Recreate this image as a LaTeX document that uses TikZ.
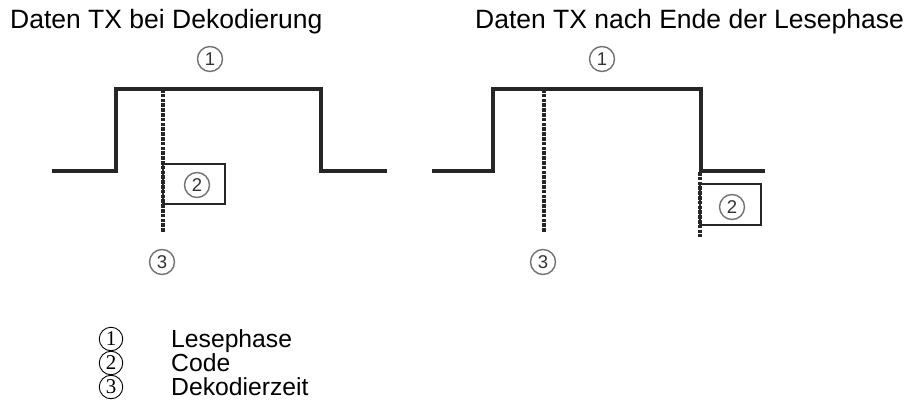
\documentclass[tikz,border=0pt]{standalone}
\usepackage{fontspec}
\setmainfont{Liberation Sans}
\newfontfamily\serifdig{Liberation Serif}
\begin{document}
\begin{tikzpicture}[x=1pt,y=-1pt,
  sig/.style={line width=3.2pt, draw=black!85, line join=miter, line cap=butt},
  dashline/.style={line width=3.3pt, draw=black!85, dash pattern=on 3.6pt off 1.2pt},
  codebox/.style={line width=2.6pt, draw=black!85},
  clabel/.style={circle, draw=black!55, line width=1.4pt, minimum size=25pt, inner sep=0pt,
    font=\fontsize{18.5}{18.5}\selectfont, text=black!80},
  lnum/.style={circle, draw=black, line width=0.9pt, minimum size=23.5pt, inner sep=0pt,
    font=\serifdig\fontsize{21}{21}\selectfont},
  title/.style={anchor=base west, inner sep=0pt, font=\fontsize{26.5}{30}\selectfont},
  legtext/.style={anchor=base west, inner sep=0pt, font=\fontsize{24.7}{28}\selectfont}
]
\useasboundingbox (0,0) rectangle (910,417);
\fill[white] (0,0) rectangle (910,417);

% titles
\node[title] (t1) at (10,29) {Daten TX bei Dekodierung};
\node[title] (t2) at (475,29) {Daten TX nach Ende der Lesephase};

% ---------- left diagram ----------
\coordinate (la) at (52,171);
\coordinate (lb) at (116,171);
\coordinate (lc) at (116,89);
\coordinate (ld) at (321,89);
\coordinate (le) at (321,171);
\coordinate (lf) at (387,171);
\draw[sig] (la) -- (lb) -- (lc) -- (ld) -- (le) -- (lf);
\coordinate (ldt) at (163,89);
\coordinate (ldb) at (163,233);
\draw[dashline] (ldt) -- (ldb);
\coordinate (lbox1) at (163,164);
\coordinate (lbox2) at (225,204);
\draw[codebox] (lbox1) rectangle (lbox2);
\node[clabel] (l1) at (210,59) {1};
\node[clabel] (l2) at (197,185) {2};
\node[clabel] (l3) at (162,262) {3};

% ---------- right diagram ----------
\coordinate (ra) at (432,171);
\coordinate (rb) at (493,171);
\coordinate (rc) at (493,89);
\coordinate (rd) at (701,89);
\coordinate (re) at (701,171);
\coordinate (rf) at (765,171);
\draw[sig] (ra) -- (rb) -- (rc) -- (rd) -- (re) -- (rf);
\coordinate (rdt) at (544,89);
\coordinate (rdb) at (544,233);
\draw[dashline] (rdt) -- (rdb);
\coordinate (rdt2) at (700,172);
\coordinate (rdb2) at (700,237);
\draw[dashline] (rdt2) -- (rdb2);
\coordinate (rbox1) at (700,184);
\coordinate (rbox2) at (761,225);
\draw[codebox] (rbox1) rectangle (rbox2);
\node[clabel] (r1) at (602,59) {1};
\node[clabel] (r2) at (732,207) {2};
\node[clabel] (r3) at (543,262) {3};

% ---------- legend ----------
\node[lnum] (n1) at (111,339) {1};
\node[lnum] (n2) at (111,363) {2};
\node[lnum] (n3) at (111,387) {3};
\node[legtext] (g1) at (171,347.5) {Lesephase};
\node[legtext] (g2) at (171,371.5) {Code};
\node[legtext] (g3) at (171,395.5) {Dekodierzeit};
\end{tikzpicture}
\end{document}
